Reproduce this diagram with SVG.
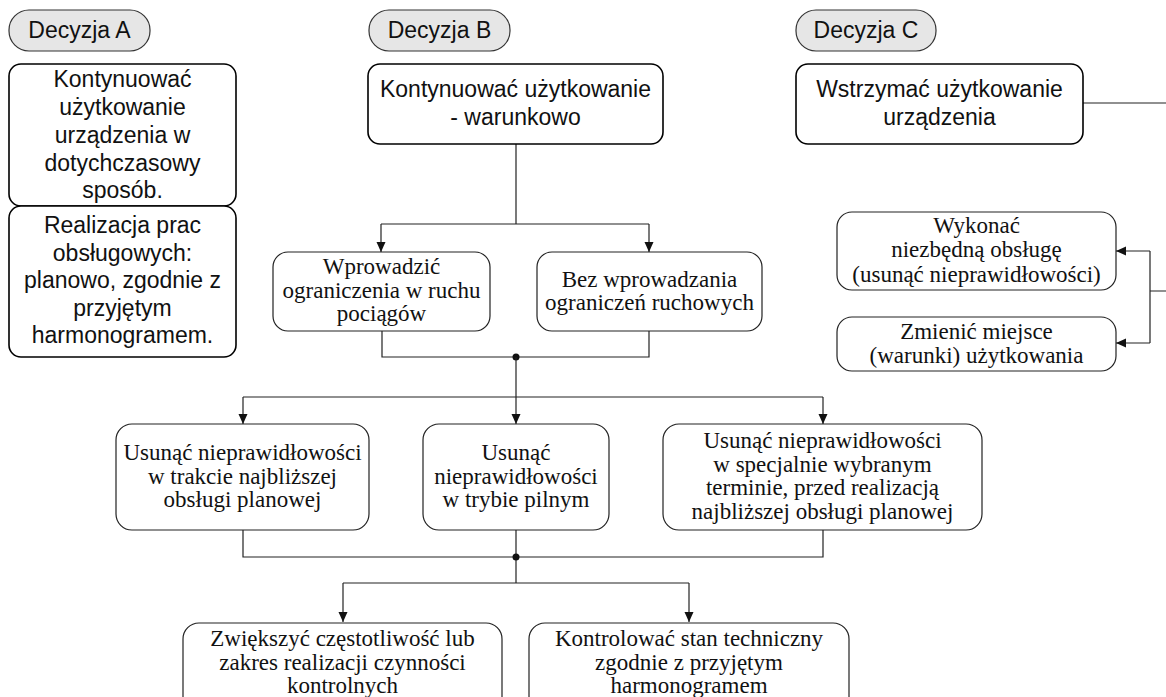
<svg xmlns="http://www.w3.org/2000/svg" width="1166" height="697" viewBox="0 0 1166 697">
<defs>
<style>
.pill{fill:#e6e6e6;stroke:#333;stroke-width:1.2}
.sb{fill:#fff;stroke:#000;stroke-width:1.6}
.rb{fill:#fff;stroke:#222;stroke-width:1.2}
.sans{font-family:"Liberation Sans",Arial,sans-serif;font-size:23px;fill:#111;text-anchor:middle}
.serif{font-family:"Liberation Serif","Times New Roman",serif;font-size:23px;fill:#111;text-anchor:middle}
.ln{fill:none;stroke:#222;stroke-width:1.2}
.arr{fill:none;stroke:#222;stroke-width:1.2;marker-end:url(#ah)}
</style>
<marker id="ah" markerUnits="userSpaceOnUse" markerWidth="12" markerHeight="12" viewBox="0 0 12 12" refX="11" refY="6" orient="auto">
<path d="M1,1.5 L11,6 L1,10.5 Z" fill="#111"/>
</marker>
</defs>
<rect width="1166" height="697" fill="#fff"/>

<g id="connectors">
<path class="ln" d="M516,144 V224 M381,224 H649"/>
<path class="arr" d="M381,224 V252"/>
<path class="arr" d="M649,224 V252"/>
<path class="ln" d="M382,331 V357 H649 V331"/>
<circle cx="516" cy="357" r="3.5" fill="#111"/>
<path class="arr" d="M516,357 V424"/>
<path class="ln" d="M243,397 H823"/>
<path class="arr" d="M243,397 V424"/>
<path class="arr" d="M823,397 V424"/>
<path class="ln" d="M243,530 V557 H823 V530 M516,530 V583"/>
<circle cx="516" cy="557" r="3.5" fill="#111"/>
<path class="ln" d="M343,583 H689"/>
<path class="arr" d="M343,583 V622"/>
<path class="arr" d="M689,583 V622"/>
<path class="ln" d="M1083,103 H1166 M1150,291 H1166 M1150,251 V343"/>
<path class="arr" d="M1150,251 H1116"/>
<path class="arr" d="M1150,343 H1116"/>
</g>

<g id="decA">
<rect class="pill" x="9" y="10" width="141" height="41" rx="20"/>
<text class="sans" x="79.5" y="38">Decyzja A</text>
</g>
<g id="decB">
<rect class="pill" x="369" y="10" width="141" height="41" rx="20"/>
<text class="sans" x="439.5" y="38">Decyzja B</text>
</g>
<g id="decC">
<rect class="pill" x="796" y="10" width="140" height="41" rx="20"/>
<text class="sans" x="866" y="38">Decyzja C</text>
</g>

<g id="a1">
<rect class="sb" x="9" y="64" width="227" height="142" rx="12"/>
<text class="sans" x="122.5" y="87">Kontynuować</text>
<text class="sans" x="122.5" y="115">użytkowanie</text>
<text class="sans" x="122.5" y="143">urządzenia w</text>
<text class="sans" x="122.5" y="171">dotychczasowy</text>
<text class="sans" x="122.5" y="198">sposób.</text>
</g>
<g id="a2">
<rect class="sb" x="9" y="206" width="227" height="151" rx="12"/>
<text class="sans" x="122.5" y="233">Realizacja prac</text>
<text class="sans" x="122.5" y="261">obsługowych:</text>
<text class="sans" x="122.5" y="288">planowo, zgodnie z</text>
<text class="sans" x="122.5" y="316">przyjętym</text>
<text class="sans" x="122.5" y="343">harmonogramem.</text>
</g>

<g id="b1">
<rect class="sb" x="368" y="64" width="295" height="80" rx="12"/>
<text class="sans" x="515.5" y="97">Kontynuować użytkowanie</text>
<text class="sans" x="515.5" y="125">- warunkowo</text>
</g>
<g id="c1">
<rect class="sb" x="796" y="64" width="287" height="80" rx="12"/>
<text class="sans" x="939.5" y="97">Wstrzymać użytkowanie</text>
<text class="sans" x="939.5" y="125">urządzenia</text>
</g>

<g id="b2a">
<rect class="rb" x="273" y="252" width="217" height="79" rx="15"/>
<text class="serif" x="381.5" y="274">Wprowadzić</text>
<text class="serif" x="381.5" y="297.5">ograniczenia w ruchu</text>
<text class="serif" x="381.5" y="321">pociągów</text>
</g>
<g id="b2b">
<rect class="rb" x="537" y="252" width="225" height="79" rx="15"/>
<text class="serif" x="649.5" y="287">Bez wprowadzania</text>
<text class="serif" x="649.5" y="310">ograniczeń ruchowych</text>
</g>

<g id="c2a">
<rect class="rb" x="837" y="212" width="279" height="78" rx="15"/>
<text class="serif" x="976.5" y="233">Wykonać</text>
<text class="serif" x="976.5" y="257">niezbędną obsługę</text>
<text class="serif" x="976.5" y="282">(usunąć nieprawidłowości)</text>
</g>
<g id="c2b">
<rect class="rb" x="837" y="317" width="279" height="54" rx="15"/>
<text class="serif" x="976.5" y="339">Zmienić miejsce</text>
<text class="serif" x="976.5" y="363">(warunki) użytkowania</text>
</g>

<g id="b3a">
<rect class="rb" x="116" y="424" width="253" height="106" rx="16"/>
<text class="serif" x="242.5" y="460">Usunąć nieprawidłowości</text>
<text class="serif" x="242.5" y="483.5">w trakcie najbliższej</text>
<text class="serif" x="242.5" y="507">obsługi planowej</text>
</g>
<g id="b3b">
<rect class="rb" x="423" y="424" width="186" height="106" rx="16"/>
<text class="serif" x="516" y="460">Usunąć</text>
<text class="serif" x="516" y="483.5">nieprawidłowości</text>
<text class="serif" x="516" y="507">w trybie pilnym</text>
</g>
<g id="b3c">
<rect class="rb" x="663" y="424" width="319" height="106" rx="16"/>
<text class="serif" x="822.5" y="448">Usunąć nieprawidłowości</text>
<text class="serif" x="822.5" y="471.5">w specjalnie wybranym</text>
<text class="serif" x="822.5" y="495">terminie, przed realizacją</text>
<text class="serif" x="822.5" y="518.5">najbliższej obsługi planowej</text>
</g>

<g id="b4a">
<rect class="rb" x="183" y="623" width="319" height="90" rx="16"/>
<text class="serif" x="342.5" y="646">Zwiększyć częstotliwość lub</text>
<text class="serif" x="342.5" y="669.5">zakres realizacji czynności</text>
<text class="serif" x="342.5" y="693">kontrolnych</text>
</g>
<g id="b4b">
<rect class="rb" x="529" y="623" width="320" height="90" rx="16"/>
<text class="serif" x="689" y="646">Kontrolować stan techniczny</text>
<text class="serif" x="689" y="669.5">zgodnie z przyjętym</text>
<text class="serif" x="689" y="693">harmonogramem</text>
</g>
</svg>
